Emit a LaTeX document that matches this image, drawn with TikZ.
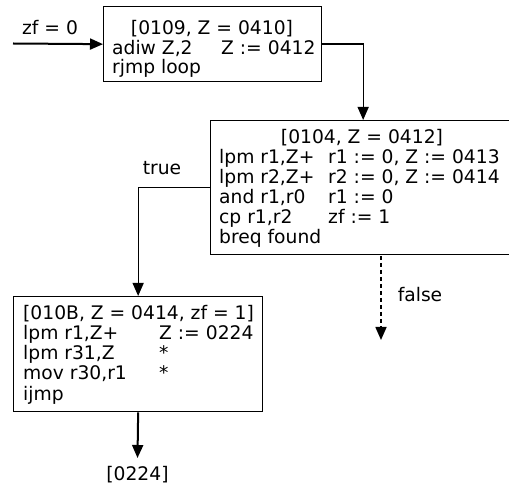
\documentclass[tikz,border=0pt]{standalone}
\usepackage{fontspec}
\setmainfont{DejaVu Sans}
\usetikzlibrary{arrows.meta,calc}
\begin{document}
\begin{tikzpicture}[x=1pt,y=-1pt,
  box/.style={draw,line width=1.3pt,inner sep=0pt,anchor=north west},
  txt/.style={inner sep=0pt,anchor=base west,font=\fontsize{18.7}{20}\selectfont},
  ctxt/.style={inner sep=0pt,anchor=base,font=\fontsize{18.7}{20}\selectfont},
  conn/.style={line width=1.3pt,-{Triangle[length=13pt,width=11pt]}},
  heavyconn/.style={line width=2pt,-{Triangle[length=13pt,width=11pt]}},
  falseconn/.style={line width=1.6pt,dash pattern=on 4pt off 3pt,-{Triangle[length=13pt,width=11pt]}}]
\useasboundingbox (0,0) rectangle (509,486);

% boxes
\node[box,minimum width=218pt,minimum height=75pt] (b1) at (103,6) {};
\node[box,minimum width=305pt,minimum height=134pt] (b2) at (210,120) {};
\node[box,minimum width=249pt,minimum height=115pt] (b3) at (13,296) {};

% box 1 text
\node[ctxt] (b1t) at (212,35) {[0109, Z = 0410]};
\node[txt] (b1a) at (112,54.5) {adiw Z,2};
\node[txt] (b1b) at (221,54.5) {Z := 0412};
\node[txt] (b1c) at (112,73.5) {rjmp loop};

% box 2 text
\node[ctxt] (b2t) at (362,144) {[0104, Z = 0412]};
\node[txt] (b2a1) at (219,164) {lpm r1,Z+};
\node[txt] (b2b1) at (328,164) {r1 := 0, Z := 0413};
\node[txt] (b2a2) at (219,184) {lpm r2,Z+};
\node[txt] (b2b2) at (328,184) {r2 := 0, Z := 0414};
\node[txt] (b2a3) at (219,204) {and r1,r0};
\node[txt] (b2b3) at (328,204) {r1 := 0};
\node[txt] (b2a4) at (219,224) {cp r1,r2};
\node[txt] (b2b4) at (328,224) {zf := 1};
\node[txt] (b2a5) at (219,244) {breq found};

% box 3 text
\node[txt] (b3t) at (23,320) {[010B, Z = 0414, zf = 1]};
\node[txt] (b3a1) at (23,340) {lpm r1,Z+};
\node[txt] (b3b1) at (159,340) {Z := 0224};
\node[txt] (b3a2) at (23,360) {lpm r31,Z};
\node[txt] (b3b2) at (159,360) {*};
\node[txt] (b3a3) at (23,380) {mov r30,r1};
\node[txt] (b3b3) at (159,380) {*};
\node[txt] (b3a4) at (23,400) {ijmp};

% labels
\node[ctxt] (lzf) at (50,35) {zf = 0};
\node[ctxt] (ltrue) at (162,175) {true};
\node[ctxt] (lfalse) at (420,302) {false};
\node[ctxt] (out) at (137.5,480.5) {[0224]};

% coordinates
\coordinate (in) at (13,43.5);
\coordinate (fstart) at (381,256);
\coordinate (ftip) at (381,340);
\coordinate (outtip) at (137.5,458);

% connectors
\draw[heavyconn] (in) -- (b1.west);
\draw[conn] (b1.east) -| (b2.north);
\draw[conn] (b2.west) -| (b3.north);
\draw[falseconn] (fstart) -- (ftip);
\draw[heavyconn] (b3.south) -- (outtip);
\end{tikzpicture}
\end{document}
